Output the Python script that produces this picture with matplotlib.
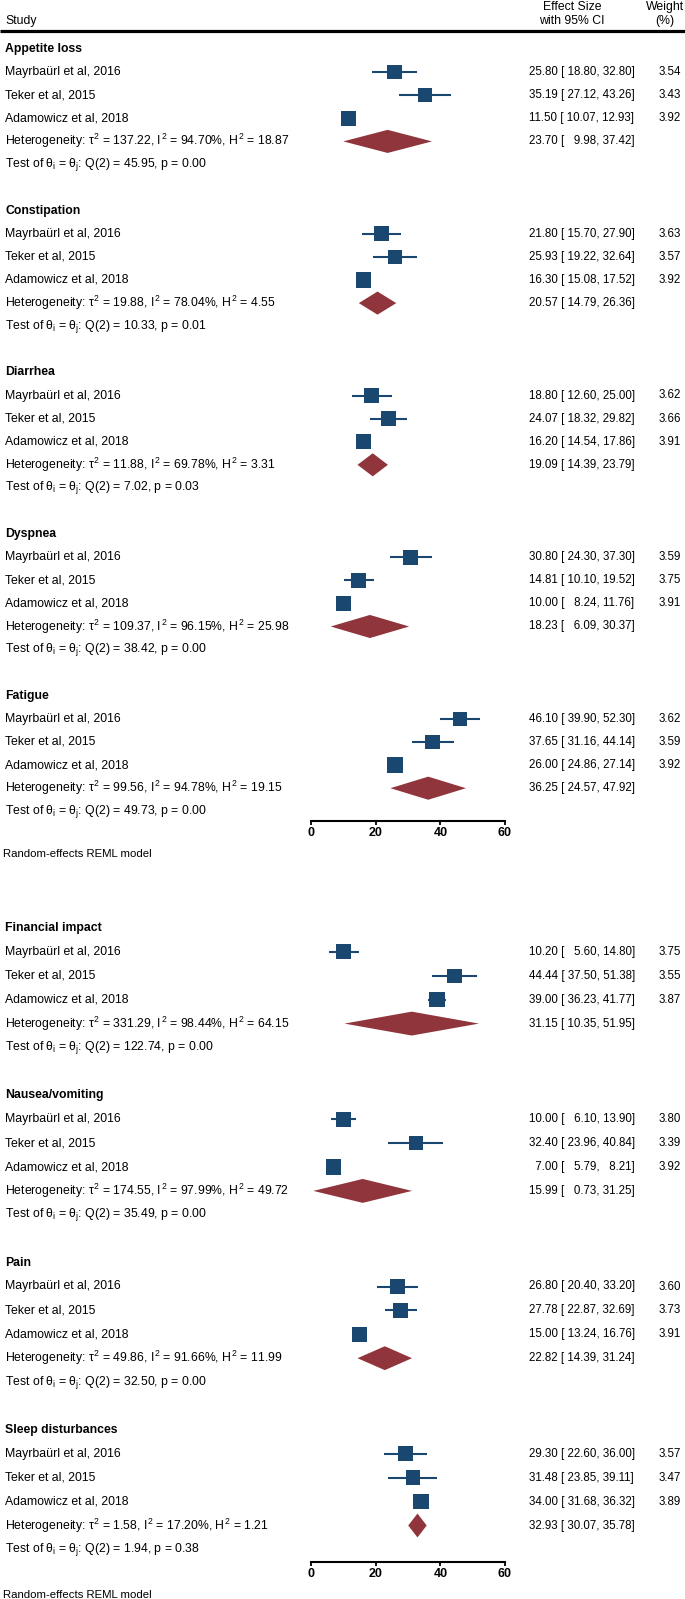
import matplotlib
matplotlib.use("Agg")
import matplotlib.pyplot as plt
from matplotlib.patches import Polygon
from matplotlib.transforms import blended_transform_factory

plt.rcParams['font.family'] = ['Liberation Sans', 'DejaVu Sans']
plt.rcParams['mathtext.fontset'] = 'custom'
plt.rcParams['mathtext.rm'] = 'Liberation Sans'
plt.rcParams['mathtext.it'] = 'Liberation Sans'
plt.rcParams['mathtext.bf'] = 'Liberation Sans:bold'

# ---------------- data ----------------
studies = ["Mayrbaürl et al, 2016", "Teker et al, 2015", "Adamowicz et al, 2018"]
outcomes = ["Appetite loss", "Constipation", "Diarrhea", "Dyspnea", "Fatigue",
            "Financial impact", "Nausea/vomiting", "Pain", "Sleep disturbances"]
effect = [[25.80, 35.19, 11.50], [21.80, 25.93, 16.30], [18.80, 24.07, 16.20],
          [30.80, 14.81, 10.00], [46.10, 37.65, 26.00], [10.20, 44.44, 39.00],
          [10.00, 32.40, 7.00], [26.80, 27.78, 15.00], [29.30, 31.48, 34.00]]
ci_low = [[18.80, 27.12, 10.07], [15.70, 19.22, 15.08], [12.60, 18.32, 14.54],
          [24.30, 10.10, 8.24], [39.90, 31.16, 24.86], [5.60, 37.50, 36.23],
          [6.10, 23.96, 5.79], [20.40, 22.87, 13.24], [22.60, 23.85, 31.68]]
ci_high = [[32.80, 43.26, 12.93], [27.90, 32.64, 17.52], [25.00, 29.82, 17.86],
           [37.30, 19.52, 11.76], [52.30, 44.14, 27.14], [14.80, 51.38, 41.77],
           [13.90, 40.84, 8.21], [33.20, 32.69, 16.76], [36.00, 39.11, 36.32]]
weights = [[3.54, 3.43, 3.92], [3.63, 3.57, 3.92], [3.62, 3.66, 3.91],
           [3.59, 3.75, 3.91], [3.62, 3.59, 3.92], [3.75, 3.55, 3.87],
           [3.80, 3.39, 3.92], [3.60, 3.73, 3.91], [3.57, 3.47, 3.89]]
pooled_es = [23.70, 20.57, 19.09, 18.23, 36.25, 31.15, 15.99, 22.82, 32.93]
pooled_lo = [9.98, 14.79, 14.39, 6.09, 24.57, 10.35, 0.73, 14.39, 30.07]
pooled_hi = [37.42, 26.36, 23.79, 30.37, 47.92, 51.95, 31.25, 31.24, 35.78]
tau2 = [137.22, 19.88, 11.88, 109.37, 99.56, 331.29, 174.55, 49.86, 1.58]
i2 = [94.70, 78.04, 69.78, 96.15, 94.78, 98.44, 97.99, 91.66, 17.20]
h2 = [18.87, 4.55, 3.31, 25.98, 19.15, 64.15, 49.72, 11.99, 1.21]
q_stat = [45.95, 10.33, 7.02, 38.42, 49.73, 122.74, 35.49, 32.50, 1.94]
p_val = [0.00, 0.01, 0.03, 0.00, 0.00, 0.00, 0.00, 0.00, 0.38]
panels = [[0, 1, 2, 3, 4], [5, 6, 7, 8]]
x_ticks = [0, 20, 40, 60]

# ---------------- layout (pixels) ----------------
W, H = 685, 1599
X0_PX, X60_PX = 311, 505
NAVY = "#1A476F"
MAROON = "#90353B"
FS = 8.8
FS_NUM = 8.3
FIGSP = "\u2007"

fig = plt.figure(figsize=(W / 100, H / 100), dpi=100)


def pad5(v):
    s = f"{v:.2f}"
    return FIGSP * (5 - len(s)) + s


def make_panel(top_px, axis_px, first_row_px, r):
    ax = fig.add_axes([0, 1 - axis_px / H, 1, (axis_px - top_px) / H])
    ppu = (X60_PX - X0_PX) / (x_ticks[-1] - x_ticks[0])
    ax.set_xlim(-X0_PX / ppu, (W - X0_PX) / ppu)
    ax.set_ylim((axis_px - first_row_px) / r, (top_px - first_row_px) / r)
    for s in ["top", "left", "right"]:
        ax.spines[s].set_visible(False)
    ax.spines["bottom"].set_bounds(x_ticks[0], x_ticks[-1])
    ax.spines["bottom"].set_linewidth(1.5)
    ax.set_yticks([])
    ax.set_xticks(x_ticks)
    ax.set_xticklabels([str(t) for t in x_ticks], fontsize=9, fontweight="bold")
    ax.tick_params(axis="x", direction="out", length=3, width=1.3, pad=1.5)
    ax.patch.set_alpha(0)
    return ax


def tx(px):
    return px / W


def draw_panel(ax, idxs, r, first_row_px, axis_px, header):
    trans = blended_transform_factory(fig.transFigure, ax.transData)

    def ry(px):
        return (px - first_row_px) / r

    if header:
        ax.text(tx(5), ry(21), "Study", transform=trans, fontsize=FS, va="center", ha="left")
        ax.text(tx(572), ry(7), "Effect Size", transform=trans, fontsize=FS, va="center", ha="center")
        ax.text(tx(572), ry(21), "with 95% CI", transform=trans, fontsize=FS, va="center", ha="center")
        ax.text(tx(665), ry(7), "Weight", transform=trans, fontsize=FS, va="center", ha="center")
        ax.text(tx(665), ry(21), "(%)", transform=trans, fontsize=FS, va="center", ha="center")
        ax.plot([tx(0), tx(W)], [ry(30.5), ry(30.5)], transform=trans, color="black",
                lw=2.3, clip_on=False, solid_capstyle="butt")
    row = 0
    for g in idxs:
        ax.text(tx(5), row, outcomes[g], transform=trans, fontsize=FS, fontweight="bold",
                va="center", ha="left")
        for j, name in enumerate(studies):
            y = row + 1 + j
            ax.text(tx(5), y, name, transform=trans, fontsize=FS, va="center", ha="left")
            ax.plot([ci_low[g][j], ci_high[g][j]], [y, y], color=NAVY, lw=1.5,
                    solid_capstyle="butt", zorder=2)
            ax.scatter([effect[g][j]], [y], marker="s", s=31 * weights[g][j],
                       color=NAVY, edgecolors="none", zorder=3)
            ax.text(tx(529), y, f"{pad5(effect[g][j])} [ {pad5(ci_low[g][j])}, {pad5(ci_high[g][j])}]",
                    transform=trans, fontsize=FS_NUM, va="center", ha="left")
            ax.text(tx(681), y, f"{weights[g][j]:.2f}", transform=trans, fontsize=FS_NUM,
                    va="center", ha="right")
        y = row + 4
        het = (r"Heterogeneity: $\tau^{2}$ = " + f"{tau2[g]:.2f}, " + r"$I^{2}$ = "
               + f"{i2[g]:.2f}%, " + r"$H^{2}$ = " + f"{h2[g]:.2f}")
        ax.text(tx(5), y, het, transform=trans, fontsize=FS, va="center", ha="left")
        dh = 0.5
        ax.add_patch(Polygon([[pooled_lo[g], y], [pooled_es[g], y - dh],
                              [pooled_hi[g], y], [pooled_es[g], y + dh]],
                             closed=True, facecolor=MAROON, edgecolor="none", zorder=3))
        ax.text(tx(529), y, f"{pad5(pooled_es[g])} [ {pad5(pooled_lo[g])}, {pad5(pooled_hi[g])}]",
                transform=trans, fontsize=FS_NUM, va="center", ha="left")
        y = row + 5
        test = (r"Test of $\theta_{i}$ = $\theta_{j}$: Q(2) = " + f"{q_stat[g]:.2f}, p = {p_val[g]:.2f}")
        ax.text(tx(5), y, test, transform=trans, fontsize=FS, va="center", ha="left")
        row += 7
    ax.text(tx(3), ry(axis_px + 33), "Random-effects REML model", transform=trans, fontsize=8.2,
            va="center", ha="left")


# panel 1
r1, first1, axis1 = 23.1, 49, 821
ax1 = make_panel(0, axis1, first1, r1)
draw_panel(ax1, panels[0], r1, first1, axis1, True)

# panel 2
r2, first2, axis2 = 23.9, 928, 1562
ax2 = make_panel(880, axis2, first2, r2)
draw_panel(ax2, panels[1], r2, first2, axis2, False)

fig.savefig("out.png", dpi=100, facecolor="white")
